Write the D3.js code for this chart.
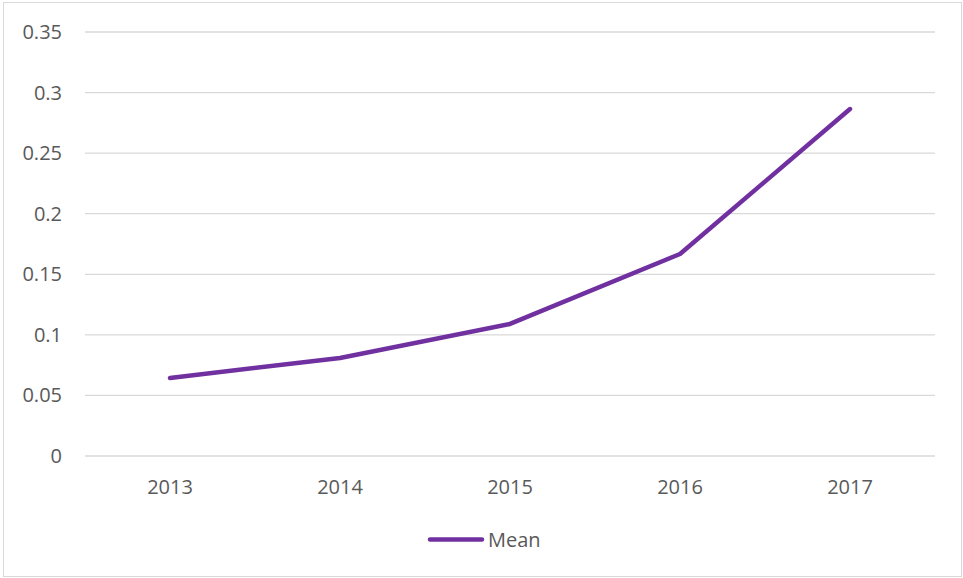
<!DOCTYPE html>
<html><head><meta charset="utf-8">
<script src="https://cdn.jsdelivr.net/npm/d3@7"></script>
<style>body{margin:0;background:#fff;}svg{display:block;}</style>
</head><body>
<svg id="c" width="963" height="578"></svg>
<script>
const years = ["2013","2014","2015","2016","2017"];
const meanValues = [0.064, 0.0805, 0.1086, 0.1663, 0.286];
const yTicks = [0, 0.05, 0.1, 0.15, 0.2, 0.25, 0.3, 0.35];
const seriesName = "Mean";

const svg = d3.select("#c");
const font = "'Open Sans', 'Liberation Sans', sans-serif";
const txt = "#595959";
svg.append("rect").attr("x",3.5).attr("y",2.5).attr("width",958).attr("height",574)
  .attr("fill","#fff").attr("stroke","#d9d9d9").attr("stroke-width",1);

const x = d3.scaleBand().domain(years).range([85,935]);
const y = d3.scaleLinear().domain([0,0.35]).range([455.5,31.5]);

const yAxis = d3.axisLeft(y).tickValues(yTicks).tickSize(-850).tickFormat(d=>String(+d.toFixed(2)));
const gy = svg.append("g").attr("transform","translate(85,0)").call(yAxis);
gy.select(".domain").remove();
gy.selectAll(".tick line").attr("stroke","#d9d9d9").attr("stroke-width",1.3);
gy.selectAll(".tick text").attr("x",-23).attr("dy","0.35em").attr("fill",txt).style("font-family",font).style("font-size","20px");

const xAxis = d3.axisBottom(x).tickSize(0);
const gx = svg.append("g").attr("transform","translate(0,455.5)").call(xAxis);
gx.select(".domain").remove();
gx.selectAll(".tick text").attr("dy","0").attr("y",38).attr("fill",txt).style("font-family",font).style("font-size","20px");

const line = d3.line().x((d,i)=>x(years[i])+x.bandwidth()/2).y(d=>y(d));
svg.append("path").datum(meanValues).attr("d",line).attr("fill","none")
  .attr("stroke","#7030A0").attr("stroke-width",4.5).attr("stroke-linecap","round").attr("stroke-linejoin","round");

const lg = svg.append("g");
lg.append("line").attr("x1",430).attr("x2",482).attr("y1",539.5).attr("y2",539.5)
  .attr("stroke","#7030A0").attr("stroke-width",4.5).attr("stroke-linecap","round");
lg.append("text").attr("x",488).attr("y",547).attr("fill",txt).style("font-family",font).style("font-size","20px").text(seriesName);
</script>
</body></html>
